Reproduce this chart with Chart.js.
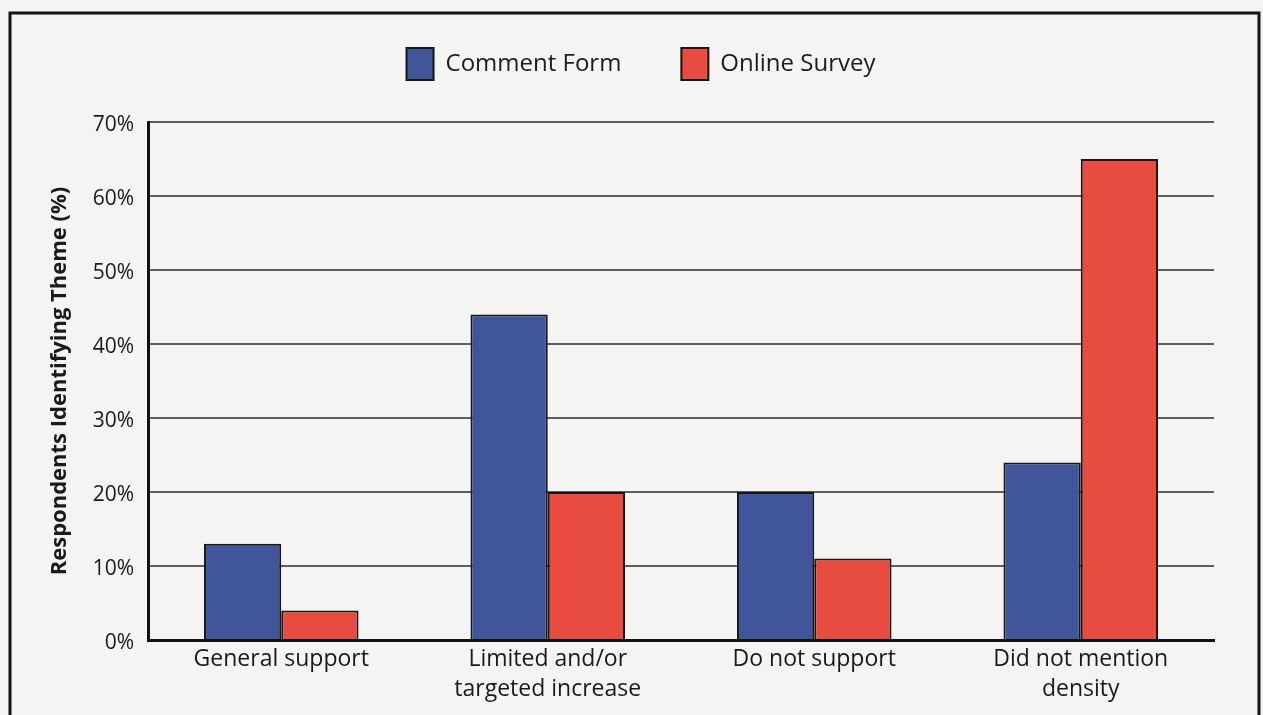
<!DOCTYPE html>
<html>
<head>
<meta charset="utf-8">
<script src="https://cdn.jsdelivr.net/npm/chart.js@4"></script>
<style>
  html, body { margin: 0; padding: 0; background: #f4f4f2; }
  #wrap { width: 1263px; height: 715px; position: relative; }
</style>
</head>
<body>
<div id="wrap"><canvas id="themeChart" width="1263" height="715"></canvas></div>
<script>
// categories and percentages per source
const themes = [
    'General support',
    ['Limited and/or', 'targeted increase'],
    'Do not support',
    ['Did not mention', 'density']
];
const commentForm = [13, 44, 20, 24];
const onlineSurvey = [4, 20, 11, 65];
const yTicks = [0, 10, 20, 30, 40, 50, 60, 70];

const FONT = '"Open Sans", "Noto Sans", sans-serif';

// paper background and the outer frame
const framePlugin = {
    id: 'frame',
    beforeDraw(chart) {
        const ctx = chart.ctx;
        ctx.save();
        ctx.fillStyle = '#f4f4f2';
        ctx.fillRect(0, 0, chart.width, chart.height);
        ctx.strokeStyle = '#151515';
        ctx.lineWidth = 3;
        ctx.strokeRect(10, 13, 1249, 720);
        ctx.restore();
    }
};

// more room under the legend, and nudge it up/right
const legendTweak = {
    id: 'legendTweak',
    beforeInit(chart) {
        const fit = chart.legend.fit;
        chart.legend.fit = function () {
            fit.call(this);
            this.height += 8;
        };
    },
    afterLayout(chart) {
        const lg = chart.legend;
        lg.top -= 24;
        lg.bottom -= 24;
        lg.left += 34;
        lg.right += 34;
    }
};

const ctx = document.getElementById('themeChart').getContext('2d');
new Chart(ctx, {
    type: 'bar',
    data: {
        labels: themes,
        datasets: [{
            label: 'Comment Form',
            data: commentForm,
            backgroundColor: '#41559a',
            borderColor: '#161616',
            borderWidth: 2
        }, {
            label: 'Online Survey',
            data: onlineSurvey,
            backgroundColor: '#e84b40',
            borderColor: '#161616',
            borderWidth: 2
        }]
    },
    options: {
        responsive: false,
        animation: false,
        devicePixelRatio: 1,
        layout: {
            padding: { left: 0, right: 49, top: 12, bottom: 0 }
        },
        datasets: {
            bar: { categoryPercentage: 0.58, barPercentage: 1 }
        },
        plugins: {
            legend: {
                position: 'top',
                labels: {
                    color: '#1c1c1c',
                    font: { family: FONT, size: 24 },
                    boxWidth: 27,
                    boxHeight: 32,
                    padding: 60,
                    useBorderRadius: false
                }
            },
            tooltip: { enabled: false }
        },
        scales: {
            x: {
                grid: { display: false, drawTicks: false },
                border: { color: '#111', width: 3 },
                ticks: {
                    color: '#1a1a1a',
                    font: { family: FONT, size: 23, lineHeight: 1.3 },
                    padding: 5,
                    maxRotation: 0
                },
                afterFit(scale) { scale.height = 75; }
            },
            y: {
                min: 0,
                max: 70,
                afterBuildTicks(scale) {
                    scale.ticks = yTicks.map(v => ({ value: v }));
                },
                grid: {
                    color: ctx => ctx.tick && ctx.tick.value === 0 ? 'rgba(0,0,0,0)' : '#5e5e5e',
                    lineWidth: 2,
                    drawTicks: false
                },
                border: { color: '#111', width: 3 },
                ticks: {
                    color: '#1a1a1a',
                    font: { family: FONT, size: 21 },
                    padding: 14,
                    labelOffset: 3,
                    callback: v => v + '%'
                },
                title: {
                    display: true,
                    text: 'Respondents Identifying Theme (%)',
                    color: '#1a1a1a',
                    font: { family: FONT, size: 22, weight: 'bold' },
                    padding: { top: 47, bottom: 0 }
                },
                afterFit(scale) { scale.width = 148; }
            }
        }
    },
    plugins: [framePlugin, legendTweak]
});
</script>
</body>
</html>
